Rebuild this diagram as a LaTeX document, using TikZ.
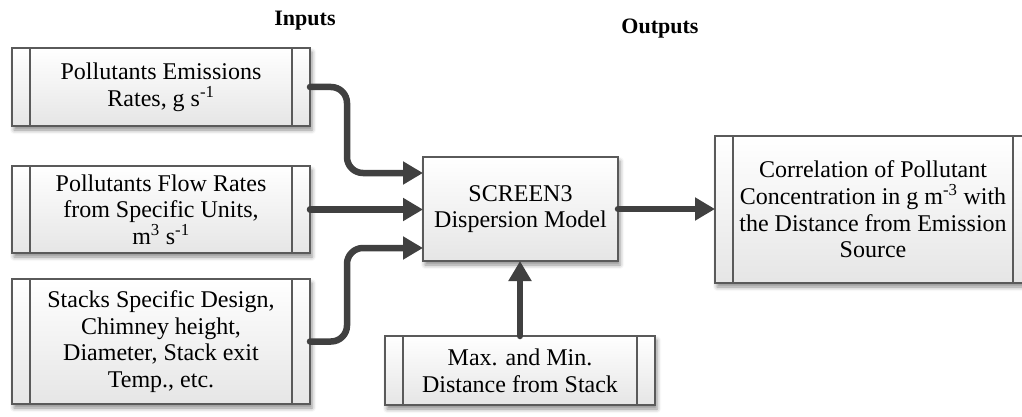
\documentclass[tikz,border=0pt]{standalone}
\usepackage{fontspec}
\setmainfont{Liberation Serif}
\newfontfamily\boxfont{Liberation Serif}
\usetikzlibrary{arrows.meta,shadows.blur,calc}
\definecolor{flowgray}{HTML}{404040}
\definecolor{edgegray}{HTML}{5A5A5A}

\tikzset{
  base/.style={draw=edgegray, line width=1.2pt, top color=white, bottom color=black!10,
    inner sep=0pt, outer sep=0pt, align=center, font=\boxfont\fontsize{24}{26.6}\selectfont,
    blur shadow={shadow xshift=2pt, shadow yshift=-4pt, shadow blur radius=4pt, shadow opacity=45}},
  procbox/.style={base, path picture={
    \draw[edgegray, line width=1.2pt]
      ([xshift=18pt]path picture bounding box.north west) -- ([xshift=18pt]path picture bounding box.south west);
    \draw[edgegray, line width=1.2pt]
      ([xshift=-18pt]path picture bounding box.north east) -- ([xshift=-18pt]path picture bounding box.south east);}},
  flow/.style={draw=flowgray, line width=6.5pt, line cap=round, rounded corners=16pt,
    -{Triangle[length=20pt,width=22pt]}},
  heading/.style={font=\boxfont\fontsize{22}{26}\selectfont\bfseries}
}

\begin{document}
\begin{tikzpicture}[x=1pt, y=-1pt]
  \useasboundingbox (0,0) rectangle (1022,417);

  % column headings
  \node[heading] (inlabel) at (305,21) {Inputs};
  \node[heading] (outlabel) at (660,29) {Outputs};

  % input boxes
  \node[procbox, minimum width=298pt, minimum height=78pt] (in1) at (161,87)
    {Pollutants Emissions\\Rates, g s\textsuperscript{-1}};
  \node[procbox, minimum width=298pt, minimum height=87pt] (in2) at (161,209.5)
    {Pollutants Flow Rates\\from Specific Units,\\m\textsuperscript{3} s\textsuperscript{-1}};
  \node[procbox, minimum width=298pt, minimum height=125pt] (in3) at (161,341.5)
    {Stacks Specific Design,\\Chimney height,\\Diameter, Stack exit\\Temp., etc.};

  % model
  \node[base, minimum width=195pt, minimum height=104pt] (model) at (520.5,209)
    {SCREEN3\\Dispersion Model};

  % distance input
  \node[procbox, minimum width=270pt, minimum height=69pt] (dist) at (520,370.5)
    {Max. and Min.\\Distance from Stack};

  % output
  \node[procbox, minimum width=316pt, minimum height=147pt] (out) at (873,209.5)
    {Correlation of Pollutant\\Concentration in g m\textsuperscript{-3} with\\the Distance from Emission\\Source};

  % connectors
  \draw[flow] (in1.east) -- ++(37,0) |- ([yshift=36pt]model.west);
  \draw[flow] (in2.east) -- (in2.east -| model.west);
  \draw[flow] (in3.east) -- ++(37,0) |- ([yshift=-39pt]model.west);
  \draw[flow] (model.east) -- (model.east -| out.west);
  \draw[flow] (dist.north) -- (dist.north |- model.south);
\end{tikzpicture}
\end{document}
